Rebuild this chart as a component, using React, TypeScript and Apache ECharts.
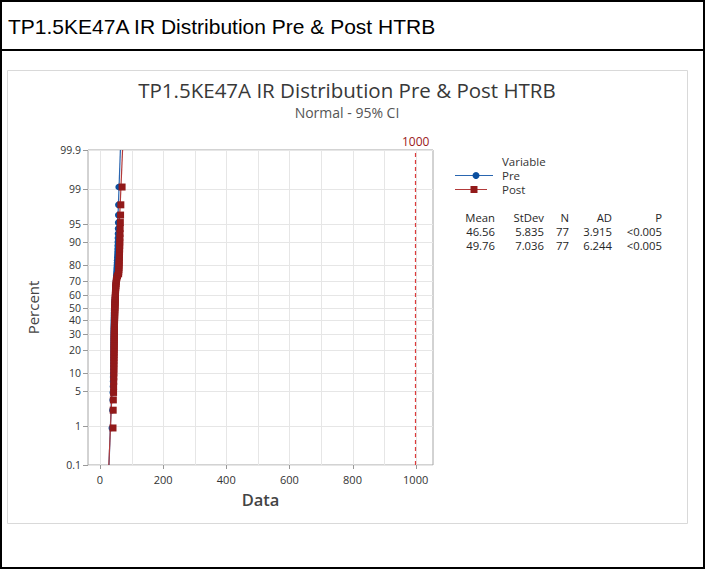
import React, { useEffect, useRef } from "react";
import * as echarts from "echarts";

const HEADER = "TP1.5KE47A IR Distribution Pre & Post HTRB";
const TITLE = "TP1.5KE47A IR Distribution Pre & Post HTRB";
const SUBTITLE = "Normal - 95% CI";
const X_NAME = "Data";
const Y_NAME = "Percent";

const preValues = [
  37.2, 39.1, 39.8, 40.3, 40.9, 41.2, 41.4, 41.6, 41.8, 42.0,
  42.1, 42.2, 42.3, 42.4, 42.5, 42.6, 42.6, 42.7, 42.8, 42.9,
  43.0, 43.0, 43.1, 43.2, 43.3, 43.3, 43.4, 43.5, 43.6, 43.7,
  43.8, 43.9, 44.0, 44.1, 44.2, 44.3, 44.4, 44.6,
  45.0, 45.4, 45.8, 46.1, 46.5, 46.9, 47.3,
  47.9, 48.3, 48.6, 48.9, 49.2, 49.5, 49.8, 50.1, 50.4, 50.7, 51.0, 51.4,
  51.9, 52.3, 52.7, 53.0, 53.4, 53.8, 54.2, 54.6,
  55.0, 55.3, 55.6, 55.9, 56.2, 56.5, 56.8, 57.1, 57.4, 57.7, 58.0,
  59.0,
];

const postValues = [
  41.2, 41.8, 42.3,
  43.0, 43.2, 43.5, 43.7, 43.9, 44.0, 44.1,
  44.2, 44.3, 44.4, 44.5, 44.6, 44.7, 44.8, 44.9, 45.0, 45.0,
  45.1, 45.2, 45.3, 45.4, 45.5, 45.6, 45.7, 45.8, 45.9, 46.0,
  46.1, 46.2, 46.3, 46.4, 46.5, 46.6, 46.8, 47.0,
  47.2, 47.4, 47.6, 47.8, 48.0, 48.2, 48.4, 48.6, 48.8, 49.0,
  49.3, 49.6, 50.0, 50.4, 50.9, 51.5, 52.2, 53.5, 55.5,
  59.0, 59.4, 59.8, 60.1, 60.4, 60.7, 61.0, 61.3, 61.6, 61.9,
  62.2, 62.5, 62.8, 63.1, 63.4, 63.8,
  64.5, 65.2, 66.0,
  70.0,
];

const preMean = 46.56;
const preSd = 5.835;
const postMean = 49.76;
const postSd = 7.036;

const percentTicks = [0.1, 1, 5, 10, 20, 30, 40, 50, 60, 70, 80, 90, 95, 99, 99.9];
const xGridTicks = [0, 100, 200, 300, 400, 500, 600, 700, 800, 900, 1000];
const xLabelTicks = [0, 200, 400, 600, 800, 1000];
const referenceX = 1000;

const statsHeader = ["Mean", "StDev", "N", "AD", "P"];
const preStats = ["46.56", "5.835", "77", "3.915", "<0.005"];
const postStats = ["49.76", "7.036", "77", "6.244", "<0.005"];

const X_MIN = -38;
const X_MAX = 1055;

const PRE_COLOR = "#0b4f9f";
const PRE_LINE = "#2a66b0";
const POST_COLOR = "#921a1a";
const POST_LINE = "#b23a3a";
const FONT = "'Open Sans', 'Noto Sans', sans-serif";

function normInv(p: number): number {
  const a = [-3.969683028665376e1, 2.209460984245205e2, -2.759285104469687e2, 1.38357751867269e2, -3.066479806614716e1, 2.506628277459239];
  const b = [-5.447609879822406e1, 1.615858368580409e2, -1.556989798598866e2, 6.680131188771972e1, -1.328068155288572e1];
  const c = [-7.784894002430293e-3, -3.223964580411365e-1, -2.400758277161838, -2.549732539343734, 4.374664141464968, 2.938163982698783];
  const d = [7.784695709041462e-3, 3.224671290700398e-1, 2.445134137142996, 3.754408661907416];
  const pl = 0.02425;
  const ph = 1 - pl;
  let q: number, r: number;
  if (p < pl) {
    q = Math.sqrt(-2 * Math.log(p));
    return (((((c[0] * q + c[1]) * q + c[2]) * q + c[3]) * q + c[4]) * q + c[5]) / ((((d[0] * q + d[1]) * q + d[2]) * q + d[3]) * q + 1);
  }
  if (p <= ph) {
    q = p - 0.5;
    r = q * q;
    return ((((((a[0] * r + a[1]) * r + a[2]) * r + a[3]) * r + a[4]) * r + a[5]) * q) / (((((b[0] * r + b[1]) * r + b[2]) * r + b[3]) * r + b[4]) * r + 1);
  }
  q = Math.sqrt(-2 * Math.log(1 - p));
  return -(((((c[0] * q + c[1]) * q + c[2]) * q + c[3]) * q + c[4]) * q + c[5]) / ((((d[0] * q + d[1]) * q + d[2]) * q + d[3]) * q + 1);
}

const Y_MIN = normInv(0.001);
const Y_MAX = normInv(0.999);

function probPoints(values: number[]) {
  const n = values.length;
  return values.map((v, i) => [v, normInv((i + 1 - 0.3) / (n + 0.4))]);
}

function fitLine(mean: number, sd: number) {
  return [
    [mean + Y_MIN * sd, Y_MIN],
    [mean + Y_MAX * sd, Y_MAX],
  ];
}

const px = (v: number) => Math.round(v) + 0.5;

export default function App() {
  const ref = useRef<HTMLDivElement>(null);

  useEffect(() => {
    if (!ref.current) return;
    const chart = echarts.init(ref.current, undefined, { renderer: "svg" });

    const statCols = [495, 544, 569, 612, 662];
    const statRows = [217, 231, 245];
    const statTexts: any[] = [];
    [statsHeader, preStats, postStats].forEach((row, ri) => {
      row.forEach((t, ci) => {
        statTexts.push({
          type: "text",
          x: statCols[ci],
          y: statRows[ri],
          style: { text: t, align: "right", verticalAlign: "middle", fontSize: 11.3, fill: "#262626", fontFamily: FONT },
        });
      });
    });

    const option: any = {
      animation: false,
      backgroundColor: "#ffffff",
      grid: { left: 88, top: 150, width: 345, height: 315, show: true, borderColor: "#a6a6a6", borderWidth: 1, backgroundColor: "transparent" },
      xAxis: {
        type: "value",
        min: X_MIN,
        max: X_MAX,
        axisLine: { show: false },
        axisTick: { show: false },
        axisLabel: { show: false },
        splitLine: { show: false },
        name: X_NAME,
        nameLocation: "middle",
        nameGap: 26,
        nameTextStyle: { fontSize: 16.5, fontWeight: 600, color: "#444", fontFamily: FONT },
      },
      yAxis: {
        type: "value",
        min: Y_MIN,
        max: Y_MAX,
        axisLine: { show: false },
        axisTick: { show: false },
        axisLabel: { show: false },
        splitLine: { show: false },
        name: Y_NAME,
        nameLocation: "middle",
        nameRotate: 90,
        nameGap: 48,
        nameTextStyle: { fontSize: 15, fontWeight: 500, color: "#444", fontFamily: FONT },
      },
      graphic: [
        { type: "rect", shape: { x: 1, y: 1, width: 703, height: 567 }, style: { fill: "none", stroke: "#000", lineWidth: 2 } },
        { type: "line", shape: { x1: 0, y1: 50, x2: 705, y2: 50 }, style: { stroke: "#000", lineWidth: 2 } },
        {
          type: "text",
          x: 8,
          y: 26,
          style: { text: HEADER, fontSize: 21, fill: "#000", fontFamily: "'Liberation Sans', Arial, sans-serif", verticalAlign: "middle", align: "left" },
        },
        { type: "rect", shape: { x: 7.5, y: 70.5, width: 680, height: 453 }, style: { fill: "none", stroke: "#d9d9d9", lineWidth: 1 } },
        {
          type: "text",
          x: 347,
          y: 90,
          style: { text: TITLE, fontSize: 20.5, fill: "#383838", fontFamily: FONT, align: "center", verticalAlign: "middle" },
        },
        {
          type: "text",
          x: 347,
          y: 112,
          style: { text: SUBTITLE, fontSize: 14, fill: "#555", fontFamily: FONT, align: "center", verticalAlign: "middle" },
        },
        { type: "text", x: 502, y: 161, style: { text: "Variable", fontSize: 11.5, fill: "#333", fontFamily: FONT, verticalAlign: "middle" } },
        { type: "line", shape: { x1: 455, y1: 175.5, x2: 493, y2: 175.5 }, style: { stroke: PRE_LINE, lineWidth: 1 } },
        { type: "circle", shape: { cx: 476, cy: 175.5, r: 3.5 }, style: { fill: PRE_COLOR } },
        { type: "text", x: 502, y: 175, style: { text: "Pre", fontSize: 11.5, fill: "#333", fontFamily: FONT, verticalAlign: "middle" } },
        { type: "line", shape: { x1: 455, y1: 189.5, x2: 487, y2: 189.5 }, style: { stroke: POST_LINE, lineWidth: 1 } },
        { type: "rect", shape: { x: 470.5, y: 186, width: 7, height: 7 }, style: { fill: POST_COLOR } },
        { type: "text", x: 502, y: 189, style: { text: "Post", fontSize: 11.5, fill: "#333", fontFamily: FONT, verticalAlign: "middle" } },
        ...statTexts,
      ],
      series: [
        {
          name: "yGrid",
          type: "custom",
          silent: true,
          z: 1,
          data: percentTicks.map((p) => [X_MIN, normInv(p / 100), p]),
          encode: { x: 0, y: 1 },
          renderItem: (params: any, api: any) => {
            const cs = params.coordSys;
            const pt = api.coord([X_MIN, api.value(1)]);
            const y = px(pt[1]);
            return {
              type: "group",
              children: [
                { type: "line", shape: { x1: cs.x, y1: y, x2: cs.x + cs.width, y2: y }, style: { stroke: "#e6e6e6", lineWidth: 1 } },
                { type: "line", shape: { x1: cs.x - 5, y1: y, x2: cs.x, y2: y }, style: { stroke: "#999", lineWidth: 1 } },
                {
                  type: "text",
                  x: cs.x - 7,
                  y: pt[1],
                  style: { text: String(api.value(2)), align: "right", verticalAlign: "middle", fontSize: 10.5, fill: "#333", fontFamily: FONT },
                },
              ],
            };
          },
        },
        {
          name: "xGrid",
          type: "custom",
          silent: true,
          z: 1,
          data: xGridTicks.map((v) => [v, Y_MIN]),
          encode: { x: 0, y: 1 },
          renderItem: (params: any, api: any) => {
            const cs = params.coordSys;
            const v = api.value(0);
            const pt = api.coord([v, Y_MIN]);
            const x = px(pt[0]);
            const children: any[] = [
              { type: "line", shape: { x1: x, y1: cs.y, x2: x, y2: cs.y + cs.height }, style: { stroke: "#e6e6e6", lineWidth: 1 } },
            ];
            if (xLabelTicks.indexOf(v) >= 0) {
              children.push({ type: "line", shape: { x1: x, y1: cs.y + cs.height, x2: x, y2: cs.y + cs.height + 4 }, style: { stroke: "#999", lineWidth: 1 } });
              children.push({
                type: "text",
                x: pt[0],
                y: cs.y + cs.height + 14,
                style: { text: String(v), align: "center", verticalAlign: "middle", fontSize: 11, fill: "#333", fontFamily: FONT },
              });
            }
            return { type: "group", children };
          },
        },
        {
          name: "Pre fit",
          type: "line",
          data: fitLine(preMean, preSd),
          symbol: "none",
          clip: true,
          z: 3,
          lineStyle: { color: PRE_LINE, width: 1.2 },
        },
        {
          name: "Post fit",
          type: "line",
          data: fitLine(postMean, postSd),
          symbol: "none",
          clip: true,
          z: 3,
          lineStyle: { color: POST_LINE, width: 1.2 },
        },
        {
          name: "Reference",
          type: "line",
          data: [],
          z: 6,
          markLine: {
            silent: true,
            symbol: "none",
            data: [{ xAxis: referenceX }],
            lineStyle: { type: [4, 3], color: "#dc3b3b", width: 1.2, opacity: 1 },
            label: { show: true, position: "end", formatter: "1000", color: "#9b2020", fontSize: 12, fontFamily: FONT, distance: 3 },
            emphasis: { disabled: true },
          },
        },
        {
          name: "Pre",
          type: "scatter",
          data: probPoints(preValues),
          symbol: "circle",
          symbolSize: 6.5,
          z: 4,
          itemStyle: { color: PRE_COLOR, opacity: 1 },
        },
        {
          name: "Post",
          type: "scatter",
          data: probPoints(postValues),
          symbol: "rect",
          symbolSize: 7,
          z: 5,
          itemStyle: { color: POST_COLOR, opacity: 1 },
        },
      ],
    };

    chart.setOption(option);
    return () => chart.dispose();
  }, []);

  return <div ref={ref} style={{ position: "absolute", left: 0, top: 0, width: 707, height: 571, background: "#fff" }} />;
}
